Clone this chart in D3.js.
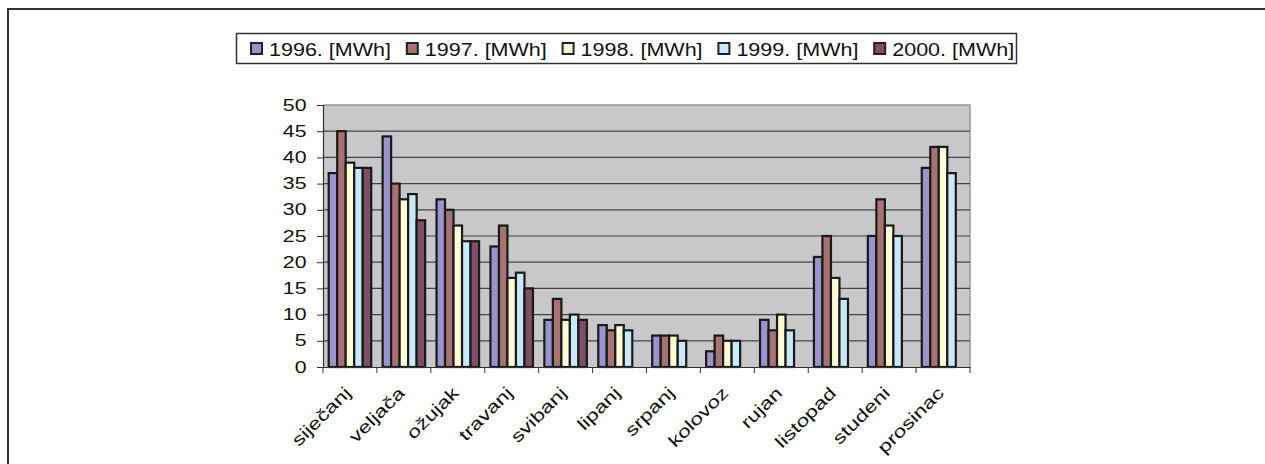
<!DOCTYPE html>
<html><head><meta charset="utf-8">
<script src="https://cdn.jsdelivr.net/npm/d3@7"></script>
<style>body{margin:0;background:#fff}svg{display:block}text{font-family:"Liberation Sans",Arial,sans-serif;fill:#111}</style>
</head><body>
<svg id="c" width="1265" height="464"></svg>
<script>
const months = ["siječanj","veljača","ožujak","travanj","svibanj","lipanj","srpanj","kolovoz","rujan","listopad","studeni","prosinac"];
const seriesNames = ["1996. [MWh]","1997. [MWh]","1998. [MWh]","1999. [MWh]","2000. [MWh]"];
const v1996 = [37,44,32,23,9,8,6,3,9,21,25,38];
const v1997 = [45,35,30,27,13,7,6,6,7,25,32,42];
const v1998 = [39,32,27,17,9,8,6,5,10,17,27,42];
const v1999 = [38,33,24,18,10,7,5,5,7,13,25,37];
const v2000 = [38,28,24,15,9,null,null,null,null,null,null,null];
const yTicks = [0,5,10,15,20,25,30,35,40,45,50];
const colors = ["#9A94CC","#A67272","#FFFCD6","#C6EAF8","#7E4F66"];
const allSeries = [v1996,v1997,v1998,v1999,v2000];

const svg = d3.select("#c");
svg.append("path").attr("d","M8,464 L8,9 L1265,9").attr("fill","none").attr("stroke","#333").attr("stroke-width",2);

const L=323,R=970,T=105,B=367;
const x0 = d3.scaleBand().domain(months).range([L,R]).padding(0);
const x1 = d3.scaleBand().domain(seriesNames).range([0,x0.bandwidth()]).paddingInner(0).paddingOuter(0.67);
const y = d3.scaleLinear().domain([0,50]).range([B,T]);

svg.append("rect").attr("x",L).attr("y",T).attr("width",R-L).attr("height",B-T).attr("fill","#C8C8CA");
svg.append("path").attr("d",`M${L},${T} L${R},${T} L${R},${B}`).attr("fill","none").attr("stroke","#999").attr("stroke-width",1.5);
svg.append("g").selectAll("line").data(yTicks.filter(d=>d>0&&d<50)).join("line")
  .attr("x1",L).attr("x2",R).attr("y1",d=>y(d)).attr("y2",d=>y(d)).attr("stroke","#444").attr("stroke-width",1.2);

const g = svg.append("g");
allSeries.forEach((vals,si)=>{
  g.append("g").selectAll("rect").data(months.map((m,i)=>({m,v:vals[i]})).filter(d=>d.v!=null)).join("rect")
    .attr("x",d=>x0(d.m)+x1(seriesNames[si]))
    .attr("y",d=>y(d.v)).attr("width",x1.bandwidth()).attr("height",d=>B-y(d.v))
    .attr("fill",colors[si]).attr("stroke","#1a1a1a").attr("stroke-width",2.2);
});

const ya = svg.append("g").attr("transform",`translate(${L},0)`).call(d3.axisLeft(y).tickValues(yTicks).tickSize(6).tickPadding(4));
ya.select(".domain").attr("stroke","#333").attr("stroke-width",1.2);
ya.selectAll(".tick line").attr("stroke","#333");
ya.selectAll("text").attr("x",0).attr("transform","translate(-16.5,0) scale(1.33,1)")
  .attr("font-size",16).attr("font-family","Liberation Sans, Arial, sans-serif").attr("fill","#111");

const xa = svg.append("g").attr("transform",`translate(0,${B})`).call(d3.axisBottom(x0).tickSize(0).tickFormat(""));
xa.select(".domain").attr("stroke","#333").attr("stroke-width",1.2);
xa.selectAll(".tick").remove();
xa.selectAll(".xt").data(months.map(m=>x0(m)).concat([R])).join("line").attr("class","xt")
  .attr("x1",d=>d).attr("x2",d=>d).attr("y1",0).attr("y2",6).attr("stroke","#333");
svg.append("g").selectAll("text").data(months).join("text")
  .attr("transform",d=>`translate(${x0(d)+x0.bandwidth()/2+2},${B+27}) rotate(-45) scale(1.33,1)`)
  .attr("text-anchor","end").attr("font-size",17).text(d=>d);

const lg = svg.append("g");
lg.append("rect").attr("x",236.5).attr("y",33.5).attr("width",780).attr("height",30).attr("fill","#fff").attr("stroke","#333").attr("stroke-width",1.5);
seriesNames.forEach((s,i)=>{
  const lx = 251 + i*155.8;
  lg.append("rect").attr("x",lx).attr("y",43).attr("width",11).attr("height",11).attr("fill",colors[i]).attr("stroke","#222").attr("stroke-width",2);
  lg.append("text").attr("transform",`translate(${lx+18},55.5) scale(1.23,1)`).attr("font-size",17.5).text(s);
});
</script>
</body></html>
